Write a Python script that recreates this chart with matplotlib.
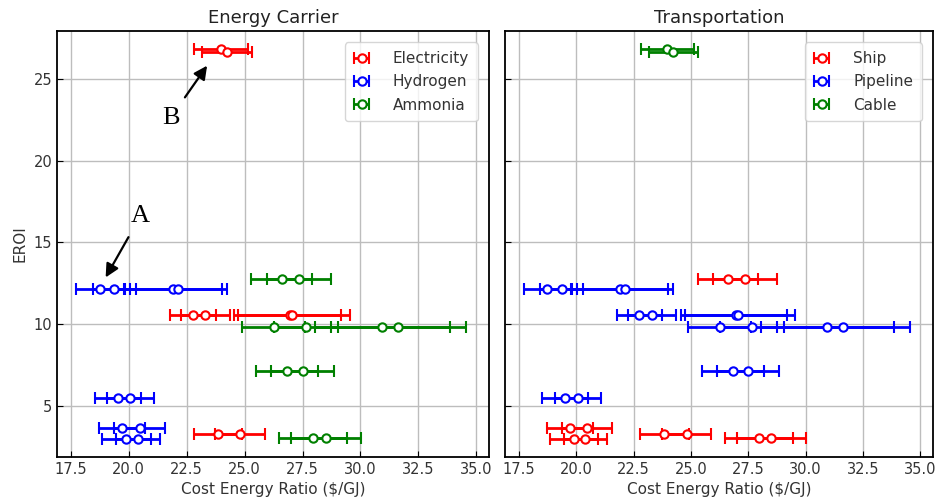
import numpy as np
import matplotlib
matplotlib.use("Agg")
import matplotlib.pyplot as plt

# ------------------------------------------------------------
# data: one entry per point (cost, error on cost, EROI)
# ------------------------------------------------------------
cost = [23.98, 24.24,
        18.75, 19.38, 21.92, 22.13,
        26.61, 27.36,
        22.76, 23.31, 26.95, 27.05,
        26.25, 27.66, 30.95, 31.64,
        26.83, 27.50,
        19.53, 20.07,
        19.72, 20.48,
        19.89, 20.40,
        23.85, 24.81,
        27.97, 28.51]
cost_err = [1.16, 1.07,
            1.03, 0.94, 2.10, 2.10,
            1.32, 1.38,
            1.00, 1.05, 2.22, 2.50,
            1.36, 1.38, 2.90, 2.90,
            1.35, 1.35,
            1.00, 1.00,
            1.00, 1.10,
            1.05, 0.95,
            1.05, 1.08,
            1.47, 1.50]
eroi = [26.80, 26.65,
        12.12, 12.12, 12.12, 12.12,
        12.73, 12.73,
        10.55, 10.55, 10.55, 10.55,
        9.84, 9.84, 9.84, 9.84,
        7.10, 7.10,
        5.45, 5.45,
        3.66, 3.66,
        2.98, 2.98,
        3.25, 3.25,
        3.06, 3.06]
carrier = ["Electricity"] * 2 + ["Hydrogen"] * 4 + ["Ammonia"] * 2 + \
          ["Electricity"] * 4 + ["Ammonia"] * 6 + ["Hydrogen"] * 6 + \
          ["Electricity"] * 2 + ["Ammonia"] * 2
transport = ["Cable"] * 2 + ["Pipeline"] * 4 + ["Ship"] * 2 + \
            ["Pipeline"] * 12 + ["Ship"] * 8

carrier_names = ["Electricity", "Hydrogen", "Ammonia"]
transport_names = ["Ship", "Pipeline", "Cable"]
colors = ["red", "blue", "green"]

cost = np.array(cost)
cost_err = np.array(cost_err)
eroi = np.array(eroi)
carrier = np.array(carrier)
transport = np.array(transport)

# ------------------------------------------------------------
# figure
# ------------------------------------------------------------
fig = plt.figure(figsize=(9.45, 5.03), dpi=100)
ax1 = fig.add_axes([57 / 945, 46 / 503, 432 / 945, 426 / 503])
ax2 = fig.add_axes([505 / 945, 46 / 503, 428 / 945, 426 / 503])


def draw_panel(ax, groups, names, title):
    for name, col in zip(names, colors):
        m = groups == name
        ax.errorbar(cost[m], eroi[m], xerr=cost_err[m], fmt="o", color=col,
                    ecolor=col, elinewidth=2, capsize=4, capthick=1.5,
                    markersize=6, markerfacecolor="white",
                    markeredgecolor=col, markeredgewidth=1.5, label=name)
    ax.set_xlim(16.9, 35.55)
    ax.set_ylim(1.87, 27.92)
    ax.set_xticks(np.arange(17.5, 35.01, 2.5))
    ax.set_yticks([5, 10, 15, 20, 25])
    ax.grid(True, color="#bdbdbd", linewidth=1)
    ax.set_axisbelow(True)
    ax.tick_params(direction="in", length=4, labelsize=10.5, labelcolor="#333333")
    for s in ax.spines.values():
        s.set_linewidth(1.3)
    ax.set_title(title, fontsize=13, color="#222222")
    ax.set_xlabel(r"Cost Energy Ratio (\$/GJ)", fontsize=11, color="#333333")
    leg = ax.legend(loc="upper right", fontsize=11, frameon=True,
                    framealpha=0.8, handlelength=1.1, handletextpad=1.5,
                    borderpad=0.55, labelspacing=0.55, borderaxespad=0.75)
    for t in leg.get_texts():
        t.set_color("#333333")


draw_panel(ax1, carrier, carrier_names, "Energy Carrier")
draw_panel(ax2, transport, transport_names, "Transportation")
ax1.set_ylabel("EROI", fontsize=11, color="#333333")
ax2.tick_params(labelleft=False)

# annotations
ax1.annotate("A", xy=(19.0, 12.85), xytext=(20.5, 16.6), fontsize=19,
             family="Liberation Serif", ha="center", va="center",
             arrowprops=dict(arrowstyle="-|>", color="black", lw=1.6,
                             mutation_scale=20, shrinkA=6, shrinkB=0))
ax1.annotate("B", xy=(23.38, 25.8), xytext=(21.8, 22.6), fontsize=19,
             family="Liberation Serif", ha="center", va="center",
             arrowprops=dict(arrowstyle="-|>", color="black", lw=1.6,
                             mutation_scale=20, shrinkA=6, shrinkB=0))

fig.savefig("out.png", dpi=100)
